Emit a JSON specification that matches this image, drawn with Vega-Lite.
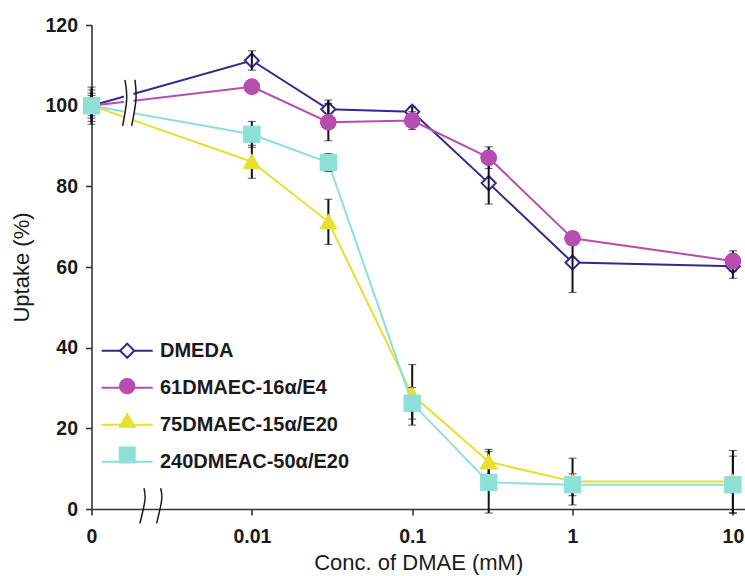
{
  "$schema": "https://vega.github.io/schema/vega-lite/v6.json",
  "width": 653.5,
  "height": 484,
  "autosize": {"type": "none"},
  "padding": {"left": 91.5, "top": 25, "right": 0, "bottom": 67},
  "background": "white",
  "config": {
    "view": {"stroke": null},
    "axis": {
      "domainColor": "#333333", "domainWidth": 1.6,
      "tickColor": "#333333", "tickWidth": 1.6, "tickSize": 6,
      "grid": false,
      "labelFont": "Liberation Sans", "labelFontWeight": "bold", "labelFontSize": 19.5, "labelColor": "#1a1a1a",
      "labelFlush": false, "labelOverlap": false,
      "titleFont": "Liberation Sans", "titleFontWeight": "normal", "titleFontSize": 22, "titleColor": "#1a1a1a"
    },
    "legend": {"padding": 0, "title": null, "labelLimit": 400}
  },
  "data": {"values": [
    {"series": "DMEDA", "conc": 0, "uptake": 100, "lo": 95.4, "hi": 104.6},
    {"series": "DMEDA", "conc": 0.01, "uptake": 111.2, "lo": 108.8, "hi": 113.6},
    {"series": "DMEDA", "conc": 0.03, "uptake": 99.1, "lo": 96.8, "hi": 101.4},
    {"series": "DMEDA", "conc": 0.1, "uptake": 98.5, "lo": 97.3, "hi": 99.7},
    {"series": "DMEDA", "conc": 0.3, "uptake": 80.8, "lo": 75.6, "hi": 86.0},
    {"series": "DMEDA", "conc": 1, "uptake": 61.1, "lo": 53.7, "hi": 68.5},
    {"series": "DMEDA", "conc": 10, "uptake": 60.2, "lo": 57.2, "hi": 63.2},
    {"series": "61DMAEC-16α/E4", "conc": 0, "uptake": 100, "lo": 96.1, "hi": 103.9},
    {"series": "61DMAEC-16α/E4", "conc": 0.01, "uptake": 104.7, "lo": 103.5, "hi": 105.9},
    {"series": "61DMAEC-16α/E4", "conc": 0.03, "uptake": 95.9, "lo": 91.3, "hi": 100.5},
    {"series": "61DMAEC-16α/E4", "conc": 0.1, "uptake": 96.3, "lo": 94.1, "hi": 98.5},
    {"series": "61DMAEC-16α/E4", "conc": 0.3, "uptake": 87.1, "lo": 84.4, "hi": 89.8},
    {"series": "61DMAEC-16α/E4", "conc": 1, "uptake": 67.1, "lo": 65.6, "hi": 68.6},
    {"series": "61DMAEC-16α/E4", "conc": 10, "uptake": 61.5, "lo": 59.0, "hi": 64.0},
    {"series": "75DMAEC-15α/E20", "conc": 0, "uptake": 100, "lo": 97.5, "hi": 102.5},
    {"series": "75DMAEC-15α/E20", "conc": 0.01, "uptake": 86.1, "lo": 82.0, "hi": 90.2},
    {"series": "75DMAEC-15α/E20", "conc": 0.03, "uptake": 71.2, "lo": 65.6, "hi": 76.8},
    {"series": "75DMAEC-15α/E20", "conc": 0.1, "uptake": 28.3, "lo": 20.8, "hi": 35.8},
    {"series": "75DMAEC-15α/E20", "conc": 0.3, "uptake": 11.7, "lo": 8.6, "hi": 14.8},
    {"series": "75DMAEC-15α/E20", "conc": 1, "uptake": 6.8, "lo": 1.0, "hi": 12.6},
    {"series": "75DMAEC-15α/E20", "conc": 10, "uptake": 6.8, "lo": -0.9, "hi": 14.5},
    {"series": "240DMEAC-50α/E20", "conc": 0, "uptake": 100, "lo": 96.9, "hi": 103.1},
    {"series": "240DMEAC-50α/E20", "conc": 0.01, "uptake": 92.9, "lo": 89.7, "hi": 96.1},
    {"series": "240DMEAC-50α/E20", "conc": 0.03, "uptake": 85.9, "lo": 83.7, "hi": 88.1},
    {"series": "240DMEAC-50α/E20", "conc": 0.1, "uptake": 26.2, "lo": 22.3, "hi": 30.1},
    {"series": "240DMEAC-50α/E20", "conc": 0.3, "uptake": 6.6, "lo": -1.0, "hi": 14.2},
    {"series": "240DMEAC-50α/E20", "conc": 1, "uptake": 6.0, "lo": 3.3, "hi": 8.7},
    {"series": "240DMEAC-50α/E20", "conc": 10, "uptake": 6.0, "lo": -1.1, "hi": 13.1}
  ]},
  "transform": [
    {"calculate": "datum.conc == 0 ? 0.001 : datum.conc", "as": "xpos"},
    {"calculate": "datum.series + ' '", "as": "sym"}
  ],
  "layer": [
    {
      "mark": {"type": "line", "strokeWidth": 2},
      "encoding": {
        "x": {"field": "xpos", "type": "quantitative", "title": "Conc. of DMAE (mM)",
          "scale": {"type": "log", "domain": [0.001, 11.9], "nice": false},
          "axis": {"values": [0.001, 0.01, 0.1, 1, 10], "labelExpr": "datum.value < 0.005 ? '0' : format(datum.value, '~g')", "labelPadding": 12, "titlePadding": 7}},
        "y": {"field": "uptake", "type": "quantitative", "title": "Uptake (%)",
          "scale": {"domain": [0, 120], "nice": false},
          "axis": {"values": [0, 20, 40, 60, 80, 100, 120], "labelPadding": 8, "titlePadding": 11}},
        "stroke": {"field": "series", "type": "nominal",
          "scale": {"domain": ["DMEDA", "61DMAEC-16α/E4", "75DMAEC-15α/E20", "240DMEAC-50α/E20"], "range": ["#37288f", "#b84db0", "#e8e030", "#8edfd8"]},
          "legend": {"orient": "none", "legendX": 9.2, "legendY": 299.2, "symbolType": "stroke", "symbolSize": 2601, "symbolStrokeWidth": 2,
            "labelFont": "Liberation Sans", "labelFontSize": 20, "labelFontWeight": "bold", "labelColor": "#1a1a1a", "labelOffset": 6.3, "rowPadding": -5.8, "padding": 0, "title": null}}
      }
    },
    {
      "data": {"values": [{"xa": 0.001594, "xb": 0.001826, "ya": 95, "yb": 106.4}]},
      "mark": {"type": "rect", "fill": "white"},
      "encoding": {
        "x": {"field": "xa", "type": "quantitative", "title": "Conc. of DMAE (mM)"},
        "x2": {"field": "xb"},
        "y": {"field": "ya", "type": "quantitative", "title": "Uptake (%)"},
        "y2": {"field": "yb"}
      }
    },
    {
      "data": {"values": [
        {"curve": "a", "k": 1, "bx": 0.001617, "by": 106.4},
        {"curve": "a", "k": 2, "bx": 0.001657, "by": 101.5},
        {"curve": "a", "k": 3, "bx": 0.001564, "by": 95.0},
        {"curve": "b", "k": 1, "bx": 0.001866, "by": 106.4},
        {"curve": "b", "k": 2, "bx": 0.001893, "by": 101.5},
        {"curve": "b", "k": 3, "bx": 0.001780, "by": 95.0},
        {"curve": "c", "k": 1, "bx": 0.002124, "by": 5.13},
        {"curve": "c", "k": 2, "bx": 0.002154, "by": 2.23},
        {"curve": "c", "k": 3, "bx": 0.002005, "by": -3.55},
        {"curve": "d", "k": 1, "bx": 0.002699, "by": 5.13},
        {"curve": "d", "k": 2, "bx": 0.002738, "by": 2.23},
        {"curve": "d", "k": 3, "bx": 0.002548, "by": -3.55}
      ]},
      "mark": {"type": "line", "color": "#1a1a1a", "strokeWidth": 1.5, "interpolate": "natural"},
      "encoding": {
        "x": {"field": "bx", "type": "quantitative", "title": "Conc. of DMAE (mM)"},
        "y": {"field": "by", "type": "quantitative", "title": "Uptake (%)"},
        "detail": {"field": "curve"},
        "order": {"field": "k", "type": "quantitative"}
      }
    },
    {
      "mark": {"type": "point", "filled": false, "strokeWidth": 2, "opacity": 1},
      "encoding": {
        "x": {"field": "xpos", "type": "quantitative", "title": "Conc. of DMAE (mM)"},
        "y": {"field": "uptake", "type": "quantitative", "title": "Uptake (%)"},
        "shape": {"field": "sym", "type": "nominal",
          "scale": {"domain": ["DMEDA ", "61DMAEC-16α/E4 ", "75DMAEC-15α/E20 ", "240DMEAC-50α/E20 "], "range": ["diamond", "circle", "triangle-up", "square"]},
          "legend": {"orient": "none", "legendX": 26.7, "legendY": 316.7, "symbolSize": 225, "symbolStrokeWidth": 2,
            "labelFontSize": 18, "labelExpr": "''", "rowPadding": 11.4, "padding": 0, "title": null}},
        "fill": {"field": "sym", "type": "nominal",
          "scale": {"domain": ["DMEDA ", "61DMAEC-16α/E4 ", "75DMAEC-15α/E20 ", "240DMEAC-50α/E20 "], "range": ["#ffffff", "#b84db0", "#e8e030", "#8edfd8"]},
          "legend": {"orient": "none", "legendX": 26.7, "legendY": 316.7, "symbolSize": 225, "symbolStrokeWidth": 2,
            "labelFontSize": 18, "labelExpr": "''", "rowPadding": 11.4, "padding": 0, "title": null}},
        "color": {"field": "sym", "type": "nominal",
          "scale": {"domain": ["DMEDA ", "61DMAEC-16α/E4 ", "75DMAEC-15α/E20 ", "240DMEAC-50α/E20 "], "range": ["#37288f", "#b84db0", "#e8e030", "#8edfd8"]},
          "legend": {"orient": "none", "legendX": 26.7, "legendY": 316.7, "symbolSize": 225, "symbolStrokeWidth": 2,
            "labelFontSize": 18, "labelExpr": "''", "rowPadding": 11.4, "padding": 0, "title": null}},
        "size": {"field": "sym", "type": "nominal",
          "scale": {"domain": ["DMEDA ", "61DMAEC-16α/E4 ", "75DMAEC-15α/E20 ", "240DMEAC-50α/E20 "], "range": [200, 225, 256, 225]},
          "legend": null}
      }
    },
    {
      "mark": {"type": "errorbar", "ticks": {"size": 8, "strokeWidth": 2, "color": "#111111"}, "rule": {"strokeWidth": 2, "color": "#111111"}},
      "encoding": {
        "x": {"field": "xpos", "type": "quantitative", "title": "Conc. of DMAE (mM)"},
        "y": {"field": "lo", "type": "quantitative", "title": "Uptake (%)"},
        "y2": {"field": "hi"}
      }
    },
    {
      "transform": [{"filter": "datum.series != 'DMEDA'"}],
      "mark": {"type": "point", "filled": false, "strokeWidth": 2, "opacity": 1},
      "encoding": {
        "x": {"field": "xpos", "type": "quantitative", "title": "Conc. of DMAE (mM)"},
        "y": {"field": "uptake", "type": "quantitative", "title": "Uptake (%)"},
        "shape": {"field": "sym", "type": "nominal", "legend": null},
        "fill": {"field": "sym", "type": "nominal", "legend": null},
        "color": {"field": "sym", "type": "nominal", "legend": null},
        "size": {"field": "sym", "type": "nominal", "legend": null}
      }
    }
  ]
}
